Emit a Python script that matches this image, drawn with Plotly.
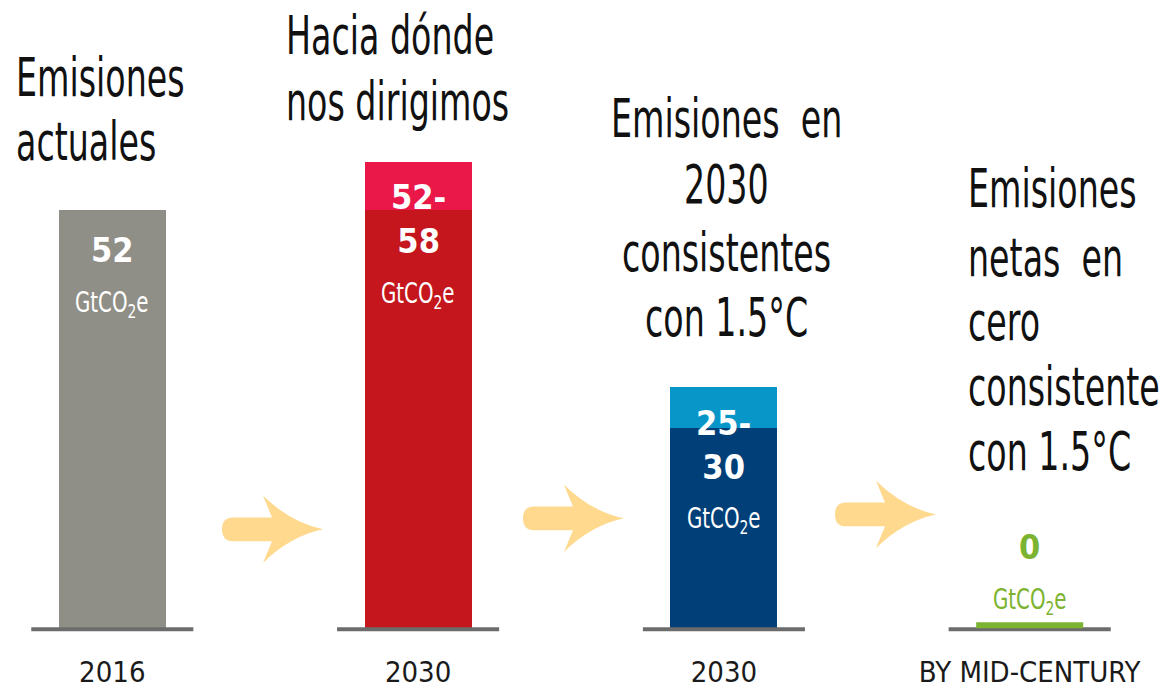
import json
import plotly.graph_objects as go

# ---------------- data ----------------
categories = ["2016", "2030", "2030", "BY MID-CENTURY"]
low_values = [52, 52, 25, 0]      # GtCO2e, lower end of each range
high_values = [52, 58, 30, 0]     # GtCO2e, upper end of each range
value_labels = ["52", "52-<br>58", "25-<br>30", "0"]
unit_text = "GtCO<sub>2</sub>e"
title_lines = [
    ["Emisiones", "actuales"],
    ["Hacia dónde", "nos dirigimos"],
    ["Emisiones  en", "2030", "consistentes", "con 1.5°C"],
    ["Emisiones", "netas  en", "cero", "consistente", "con 1.5°C"],
]

# ---------------- style / layout ----------------
W, H = 1165, 689
PLOT_BOTTOM = 652
ZERO_PX = 636
PX_PER_UNIT = 8.15
X_PX0, X_PX_STEP = 112.3, 305.8
x_range = [-X_PX0 / X_PX_STEP, (W - X_PX0) / X_PX_STEP]
y_range = [-(PLOT_BOTTOM - ZERO_PX) / PX_PER_UNIT, ZERO_PX / PX_PER_UNIT]


def xd(px):
    return (px - X_PX0) / X_PX_STEP


def yd(py):
    return (ZERO_PX - py) / PX_PER_UNIT


low_colors = ["#8f8f87", "#c4161c", "#003f78", "#7cb330"]
high_colors = ["#8f8f87", "#ea1849", "#0896c9", "#7cb330"]
label_colors = ["#ffffff", "#ffffff", "#ffffff", "#7cb330"]
BASE_COLOR = "#6c6c6c"
ARROW_COLOR = "#fed98e"
BAR_W = 0.35
COND_FONT = "DejaVu Sans Condensed, Liberation Sans Narrow, Arial Narrow, sans-serif"
TITLE_SIZE = 37
TITLE_STRETCH = 1.45
NUM_SIZE = 34
UNIT_SIZE = 22
UNIT_STRETCH = 1.3

xs = list(range(len(categories)))

fig = go.Figure()
fig.add_trace(go.Bar(
    x=xs, y=low_values, width=BAR_W, marker=dict(color=low_colors, line_width=0),
    hoverinfo="skip", showlegend=False,
))
fig.add_trace(go.Bar(
    x=xs, y=[h - l for h, l in zip(high_values, low_values)], base=low_values,
    width=BAR_W, marker=dict(color=high_colors, line_width=0),
    hoverinfo="skip", showlegend=False,
))

shapes = []
for x in xs:
    shapes.append(dict(type="line", xref="x", yref="y", x0=x - 0.265, x1=x + 0.265,
                       y0=0, y1=0, line=dict(color=BASE_COLOR, width=4), layer="above"))
for x, h in zip(xs, high_values):
    if h == 0:
        shapes.append(dict(type="rect", xref="x", yref="y", ysizemode="pixel", yanchor=0,
                           x0=x - BAR_W / 2, x1=x + BAR_W / 2, y0=1, y1=7,
                           fillcolor=low_colors[x], line_width=0, layer="above"))

arrow_pos = [(222, 535), (523, 524), (835, 520)]
for ax, ay in arrow_pos:
    pts = [
        ("M", [(ax + 11, ay - 12)]),
        ("L", [(ax + 50, ay - 12)]),
        ("L", [(ax + 41, ay - 34)]),
        ("Q", [(ax + 68, ay - 7), (ax + 101, ay)]),
        ("Q", [(ax + 68, ay + 7), (ax + 41, ay + 34)]),
        ("L", [(ax + 50, ay + 12)]),
        ("L", [(ax + 11, ay + 12)]),
        ("Q", [(ax, ay + 12), (ax, ay)]),
        ("Q", [(ax, ay - 12), (ax + 11, ay - 12)]),
    ]
    path = " ".join(cmd + " " + " ".join(f"{xd(px):.4f},{yd(py):.4f}" for px, py in p)
                    for cmd, p in pts) + " Z"
    shapes.append(dict(type="path", xref="x", yref="y", path=path,
                       fillcolor=ARROW_COLOR, line_width=0, layer="below"))

annotations = []
stretch = []

# value labels inside / above bars
for x, h, lab, col in zip(xs, high_values, value_labels, label_colors):
    n = lab.count("<br>") + 1
    if h > 0:
        center = ZERO_PX - h * PX_PER_UNIT + 41 + 17 * (n - 1)
    else:
        center = ZERO_PX - 83
    last = center + 22 * (n - 1)
    annotations.append(dict(x=x, y=yd(center), xref="x", yref="y", text=f"<b>{lab}</b>",
                            showarrow=False, xanchor="center", yanchor="middle", align="center",
                            font=dict(family=COND_FONT, size=NUM_SIZE, color=col)))
    stretch.append(1)
    annotations.append(dict(x=x, y=yd(last + 55), xref="x", yref="y",
                            text=unit_text, showarrow=False, xanchor="center", yanchor="middle",
                            font=dict(family=COND_FONT, size=UNIT_SIZE, color=col)))
    stretch.append(UNIT_STRETCH)

# titles
title_specs = [
    ("left", 14, [100, 165]),
    ("left", 284, [58, 125]),
    ("center", 726, [142, 208, 277, 343]),
    ("left", 966, [213, 282, 347, 413, 478]),
]
for (anchor, px, baselines), lines in zip(title_specs, title_lines):
    for b, t in zip(baselines, lines):
        annotations.append(dict(x=xd(px), y=yd(b - 22), xref="x", yref="y",
                                text=t, showarrow=False, xanchor=anchor, yanchor="middle",
                                font=dict(family=COND_FONT, size=TITLE_SIZE, color="#111111")))
        stretch.append(TITLE_STRETCH)

fig.update_layout(
    width=W, height=H,
    margin=dict(l=0, r=0, t=0, b=H - PLOT_BOTTOM, pad=0),
    paper_bgcolor="white", plot_bgcolor="white",
    barmode="overlay", bargap=0,
    shapes=shapes, annotations=annotations,
    xaxis=dict(range=x_range, tickvals=xs, ticktext=categories, showgrid=False,
               zeroline=False, showline=False, ticks="", ticklabelstandoff=7,
               tickfont=dict(family=COND_FONT, size=29, color="#1a1a1a"), fixedrange=True),
    yaxis=dict(range=y_range, visible=False, fixedrange=True),
    font=dict(family=COND_FONT),
)

post = """
document.body.style.margin = '0';
var k = %s;
document.querySelectorAll('g.annotation').forEach(function (g) {
  var i = parseInt(g.getAttribute('data-index'), 10);
  var s = k[i];
  if (s && s !== 1) {
    var t = g.querySelector('text.annotation-text');
    if (t) {
      t.style.transformBox = 'fill-box';
      t.style.transformOrigin = '50%% 50%%';
      t.style.transform = 'scaleY(' + s + ')';
    }
  }
});
""" % json.dumps(stretch)

fig.write_html("out.html", config={"displayModeBar": False}, post_script=post)
